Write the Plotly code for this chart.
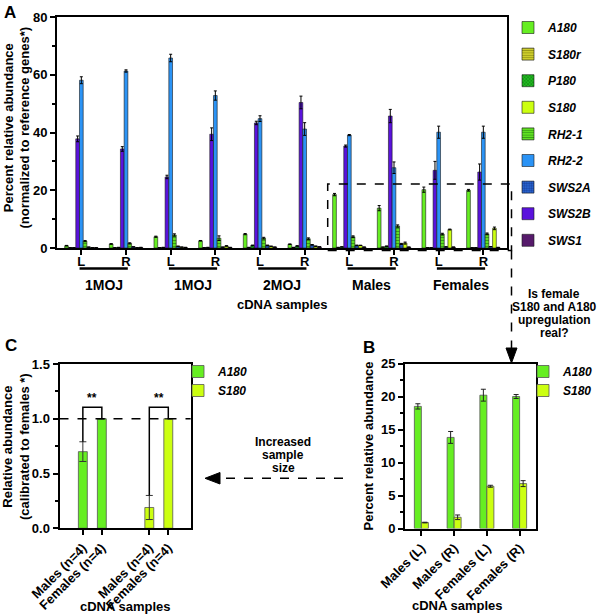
import plotly.graph_objects as go

W, H = 600, 615
FONT = "Liberation Sans, Arial, sans-serif"


def PX(x):
    return x / W


def PY(y):
    return 1 - y / H


# ---------------- Panel A data ----------------
samples = ["1MOJ-a L", "1MOJ-a R", "1MOJ-b L", "1MOJ-b R", "2MOJ L",
           "2MOJ R", "Males L", "Males R", "Females L", "Females R"]
sides = ["L", "R", "L", "R", "L", "R", "L", "R", "L", "R"]
sample_groups = ["1MOJ", "1MOJ", "2MOJ", "Males", "Females"]

A180 = [0.8, 1.4, 3.9, 2.5, 4.8, 1.3, 18.5, 13.8, 20.2, 20.0]
A180_err = [0.1, 0.1, 0.2, 0.1, 0.2, 0.1, 0.4, 0.9, 0.9, 0.3]
S180r = [0.1, 0.1, 0.1, 0.1, 0.2, 0.2, 0.2, 0.3, 0.1, 0.1]
S180r_err = [0, 0, 0, 0, 0, 0, 0, 0, 0, 0]
P180 = [0.1, 0.2, 0.2, 0.2, 0.9, 0.7, 0.4, 0.6, 0.1, 0.1]
P180_err = [0, 0, 0, 0, 0.1, 0.1, 0, 0.1, 0, 0]
S180 = [0.1, 0.1, 0.3, 0.7, 0.6, 0.6, 0.9, 1.7, 6.4, 6.8]
S180_err = [0, 0, 0, 0.1, 0, 0.1, 0.05, 0.35, 0.15, 0.45]
RH2_1 = [2.4, 1.6, 4.5, 3.4, 3.4, 3.2, 3.9, 7.6, 4.8, 4.9]
RH2_1_err = [0.2, 0.2, 0.4, 0.8, 0.3, 0.3, 0.3, 0.4, 0.3, 0.3]
RH2_2 = [58.1, 61.3, 65.8, 52.8, 44.8, 41.2, 39.1, 27.8, 40.1, 40.1]
RH2_2_err = [1.2, 0.4, 1.3, 1.6, 1.0, 2.2, 0.2, 2.0, 2.1, 2.1]
SWS2A = [0.3, 0.4, 0.6, 0.3, 0.9, 1.1, 0.9, 1.4, 0.4, 0.5]
SWS2A_err = [0, 0, 0, 0, 0.1, 0.1, 0.1, 0.2, 0, 0]
SWS2B = [37.8, 34.3, 24.6, 39.4, 43.3, 50.4, 35.3, 45.7, 26.9, 26.3]
SWS2B_err = [1.0, 0.8, 0.6, 2.2, 0.6, 2.2, 0.35, 2.3, 3.1, 2.8]
SWS1 = [0.1, 0.2, 0.2, 0.2, 0.3, 0.4, 0.3, 0.3, 0.3, 0.2]
SWS1_err = [0, 0, 0, 0, 0, 0, 0, 0, 0, 0]

# ---------------- Panel B data ----------------
b_samples = ["Males (L)", "Males (R)", "Females (L)", "Females (R)"]
b_A180 = [18.5, 13.8, 20.2, 20.0]
b_A180_err = [0.4, 0.9, 0.9, 0.3]
b_S180 = [0.9, 1.7, 6.4, 6.8]
b_S180_err = [0.05, 0.35, 0.15, 0.45]

# ---------------- Panel C data ----------------
c_samples = ["Males (n=4)", "Females (n=4)"]
c_A180 = [0.70, 1.0]
c_A180_err = [0.09, 0.0]
c_S180 = [0.19, 1.0]
c_S180_err = [0.11, 0.0]

# ---------------- styles ----------------
styles = {
    "A180": dict(color="#66ee22"),
    "S180r": dict(color="#d8d830", pattern=dict(shape="-", fgcolor="#555500", bgcolor="#d8d830", size=3, solidity=0.45)),
    "P180": dict(color="#22bb22", pattern=dict(shape="x", fgcolor="#004400", bgcolor="#22bb22", size=3, solidity=0.4)),
    "S180": dict(color="#ccff11"),
    "RH2-1": dict(color="#66ee22", pattern=dict(shape="-", fgcolor="#0d4d0d", bgcolor="#66ee22", size=3, solidity=0.45)),
    "RH2-2": dict(color="#2b93f5"),
    "SWS2A": dict(color="#2060d0", pattern=dict(shape=".", fgcolor="#0a2070", bgcolor="#2a6ad8", size=3, solidity=0.5)),
    "SWS2B": dict(color="#5a12dc"),
    "SWS1": dict(color="#561a6b"),
}
legend_order = ["A180", "S180r", "P180", "S180", "RH2-1", "RH2-2", "SWS2A", "SWS2B", "SWS1"]
bar_series = [
    ("A180", A180, A180_err),
    ("S180r", S180r, S180r_err),
    ("P180", P180, P180_err),
    ("SWS2B", SWS2B, SWS2B_err),
    ("RH2-2", RH2_2, RH2_2_err),
    ("RH2-1", RH2_1, RH2_1_err),
    ("SWS2A", SWS2A, SWS2A_err),
    ("S180", S180, S180_err),
    ("SWS1", SWS1, SWS1_err),
]

fig = go.Figure()

for name, vals, err in bar_series:
    st = styles[name]
    marker = dict(color=st["color"], line=dict(color="#1a1a1a", width=0.6))
    if "pattern" in st:
        marker["pattern"] = st["pattern"]
    fig.add_trace(go.Bar(
        x=samples, y=vals, name=name, marker=marker,
        error_y=dict(type="data", array=err, color="black", thickness=1, width=1.5),
        xaxis="x", yaxis="y", legend="legend", legendgroup=name,
        legendrank=legend_order.index(name) + 1,
    ))

# Panel B
bw_b = 0.214
fig.add_trace(go.Bar(x=b_samples, y=b_A180, name="A180", width=bw_b, offset=-bw_b,
                     marker=dict(color=styles["A180"]["color"], line=dict(color="#555", width=0.8)),
                     error_y=dict(type="data", array=b_A180_err, color="#222", thickness=1, width=2.5),
                     xaxis="x2", yaxis="y2", legend="legend2"))
fig.add_trace(go.Bar(x=b_samples, y=b_S180, name="S180", width=bw_b, offset=0,
                     marker=dict(color=styles["S180"]["color"], line=dict(color="#555", width=0.8)),
                     error_y=dict(type="data", array=b_S180_err, color="#222", thickness=1, width=2.5),
                     xaxis="x2", yaxis="y2", legend="legend2"))

# Panel C (two gene groups side by side)
c_gap = 3.5
c_pos_A = [0 * c_gap + i for i in range(len(c_samples))]
c_pos_S = [1 * c_gap + i for i in range(len(c_samples))]
bw_c = 0.47
fig.add_trace(go.Bar(x=c_pos_A, y=c_A180, name="A180", width=bw_c, offset=-bw_c / 2,
                     marker=dict(color=styles["A180"]["color"], line=dict(color="#555", width=0.8)),
                     error_y=dict(type="data", array=c_A180_err, color="#333", thickness=1, width=3.5),
                     xaxis="x3", yaxis="y3", legend="legend3"))
fig.add_trace(go.Bar(x=c_pos_S, y=c_S180, name="S180", width=bw_c, offset=-bw_c / 2,
                     marker=dict(color=styles["S180"]["color"], line=dict(color="#555", width=0.8)),
                     error_y=dict(type="data", array=c_S180_err, color="#333", thickness=1, width=3.5),
                     xaxis="x3", yaxis="y3", legend="legend3"))

tickfont = dict(family=FONT, size=13, color="black", weight="bold")
axis_common = dict(showline=True, linecolor="black", linewidth=2, mirror=True, ticks="outside",
                   ticklen=5, tickwidth=1.5, tickcolor="black", showgrid=False, zeroline=False,
                   tickfont=tickfont, automargin=False)
legfont = dict(family=FONT, size=12, color="black", weight="bold", style="italic")

layout = dict(
    width=W, height=H, margin=dict(l=0, r=0, t=0, b=0, autoexpand=False),
    paper_bgcolor="white", plot_bgcolor="white",
    barmode="group", bargap=0.253, bargroupgap=0,
    font=dict(family=FONT, color="black"),
    xaxis=dict(domain=[PX(57), PX(507)], anchor="y", type="category",
               categoryorder="array", categoryarray=samples,
               range=[-0.545, 9.53], tickvals=samples, ticktext=sides,
               ticklabelstandoff=-5, **axis_common),
    yaxis=dict(domain=[PY(248), PY(17)], anchor="x", range=[0, 80], tickvals=[0, 20, 40, 60, 80],
               minor=dict(dtick=10, ticks="outside", ticklen=3, tickwidth=1.5, tickcolor="black"),
               **axis_common),
    xaxis2=dict(domain=[PX(405), PX(536)], anchor="y2", type="category", range=[-0.5, 3.5],
                tickangle=-45, **axis_common),
    yaxis2=dict(domain=[PY(528.5), PY(363.5)], anchor="x2", range=[0, 25], dtick=5,
                minor=dict(dtick=2.5, ticks="outside", ticklen=3, tickwidth=1.5, tickcolor="black"),
                **axis_common),
    xaxis3=dict(domain=[PX(59.5), PX(190.7)], anchor="y3", range=[-1.23, 5.68],
                tickvals=c_pos_A + c_pos_S, ticktext=c_samples + c_samples, tickangle=-45,
                **axis_common),
    yaxis3=dict(domain=[PY(528.3), PY(364)], anchor="x3", range=[0, 1.5], dtick=0.5, tickformat=".1f",
                minor=dict(dtick=0.25, ticks="outside", ticklen=3, tickwidth=1.5, tickcolor="black"),
                **axis_common),
    legend=dict(x=PX(508), y=PY(13), xanchor="left", yanchor="top", traceorder="grouped",
                tracegroupgap=7.6, bgcolor="rgba(0,0,0,0)", font=legfont),
    legend2=dict(x=PX(523), y=PY(357), xanchor="left", yanchor="top", tracegroupgap=0,
                 bgcolor="rgba(0,0,0,0)", font=legfont),
    legend3=dict(x=PX(178), y=PY(357), xanchor="left", yanchor="top", tracegroupgap=0,
                 bgcolor="rgba(0,0,0,0)", font=legfont),
)
fig.update_layout(**layout)

shapes = []
annotations = []


def ann(text, x, y, size=13, xref="paper", yref="paper", angle=0, **kw):
    annotations.append(dict(text=text, x=x, y=y, xref=xref, yref=yref, showarrow=False,
                            textangle=angle, font=dict(family=FONT, size=size, color="black", weight="bold"),
                            xanchor=kw.pop("xanchor", "center"), yanchor=kw.pop("yanchor", "middle"), **kw))


# Panel A: group underlines and labels
for k, g in enumerate(sample_groups):
    shapes.append(dict(type="line", xref="x", yref="paper", x0=2 * k - 0.04, x1=2 * k + 1.04,
                       y0=PY(268.5), y1=PY(268.5), line=dict(color="black", width=2.5)))
    ann(g, 2 * k + 0.5, PY(285), size=14, xref="x")
ann("cDNA samples", PX(282), PY(305), size=13)
ann("Percent relative abundance<br>(normalized to reference genes*)", PX(16.5), PY(128), size=13, angle=-90)
ann("A", PX(10), PY(13), size=17)

# Panel B labels
ann("B", PX(369), PY(347), size=17)
ann("Percent relative abundance", PX(367.5), PY(446), size=13, angle=-90)
ann("cDNA samples", PX(457.5), PY(605), size=13)

# Panel C labels
ann("C", PX(11), PY(345), size=17)
ann("Relative abundance<br>(calibrated to females *)", PX(16), PY(447), size=13, angle=-90)
ann("cDNA samples", PX(125), PY(606), size=13)

# Panel C reference line at 1.0 and significance brackets
shapes.append(dict(type="line", xref="x3 domain", yref="y3", x0=0, x1=1, y0=1.0, y1=1.0,
                   line=dict(color="black", width=1.5, dash="dash")))
bracket_top = 1.105
for pos, vals, errs in [(c_pos_A, c_A180, c_A180_err), (c_pos_S, c_S180, c_S180_err)]:
    y_start = vals[0] + errs[0] + 0.0
    path = "M {},{} L {},{} L {},{} L {},{}".format(pos[0], y_start, pos[0], bracket_top,
                                                  pos[1], bracket_top, pos[1], vals[1])
    shapes.append(dict(type="path", xref="x3", yref="y3", path=path,
                       line=dict(color="black", width=1.5)))
    ann("**", (pos[0] + pos[1]) / 2, bracket_top, size=12, xref="x3", yref="y3", yanchor="bottom")

# Dashed highlight box in A, connector to B and arrow to C
shapes.append(dict(type="rect", xref="paper", yref="paper", x0=PX(327.7), x1=PX(511.5),
                   y0=PY(250.5), y1=PY(184), line=dict(color="black", width=1.5, dash="dash")))
shapes.append(dict(type="line", xref="paper", yref="paper", x0=PX(511.5), x1=PX(511.5),
                   y0=PY(250.5), y1=PY(350), line=dict(color="black", width=1.5, dash="dash")))
shapes.append(dict(type="path", xref="paper", yref="paper",
                   path="M {},{} L {},{} L {},{} Z".format(PX(506), PY(348), PX(517), PY(348), PX(511.5), PY(363)),
                   fillcolor="black", line=dict(color="black", width=1)))
shapes.append(dict(type="line", xref="paper", yref="paper", x0=PX(343), x1=PX(219),
                   y0=PY(478.3), y1=PY(478.3), line=dict(color="black", width=1.5, dash="dash")))
shapes.append(dict(type="path", xref="paper", yref="paper",
                   path="M {},{} L {},{} L {},{} Z".format(PX(220), PY(472.5), PX(220), PY(484), PX(205), PY(478.3)),
                   fillcolor="black", line=dict(color="black", width=1)))

for i, line in enumerate(["Is female", "S180 and A180", "upregulation", "real?"]):
    ann(line, PX(554), PY(293.5 + 13.3 * i), size=12)
for i, line in enumerate(["Increased", "sample", "size"]):
    ann(line, PX(283), PY(442 + 13 * i), size=12)

fig.update_layout(shapes=shapes, annotations=annotations)
# remove the browser's default 8 px body margin so the 600x615 figure fills the window exactly
fig.write_html("out.html", config={"displayModeBar": False},
               post_script="document.body.style.margin='0px';")
